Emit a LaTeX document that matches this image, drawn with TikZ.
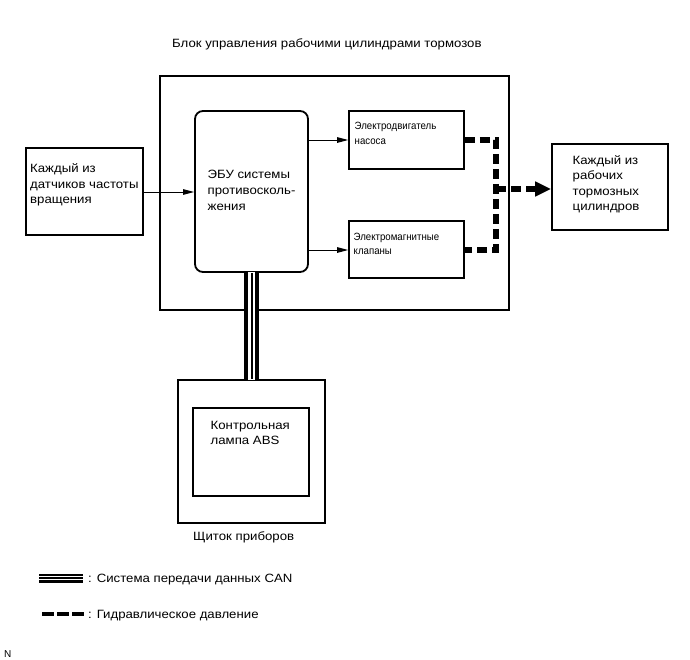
\documentclass[tikz,border=0pt]{standalone}
\usepackage{fontspec}
\setmainfont{Liberation Sans}
\newfontfamily\widefont[FakeStretch=1.1]{Liberation Sans}
\newfontfamily\narrowfont[FakeStretch=0.92]{Liberation Sans}
\usetikzlibrary{arrows.meta}
\tikzset{
  box/.style={draw, line width=1.6pt, inner sep=0pt},
  txt/.style={anchor=north west, align=left, inner sep=0pt, font=\widefont\fontsize{12}{15.6}\selectfont},
  smalltxt/.style={anchor=north west, align=left, inner sep=0pt, font=\narrowfont\fontsize{10.5}{15.5}\selectfont},
  ltxt/.style={anchor=base west, inner sep=0pt, font=\widefont\fontsize{12}{14}\selectfont},
  sig/.style={line width=1pt, -{Triangle[length=11pt,width=5.5pt]}},
  hyd/.style={line width=6pt, dash pattern=on 10pt off 5pt},
}
\begin{document}
\begin{tikzpicture}[x=1pt,y=-1pt]
\useasboundingbox (0,0) rectangle (690,659);
% title
\node[ltxt] (title) at (172,47) {Блок управления рабочими цилиндрами тормозов};
% outer box
\node[box, line width=2pt, minimum width=349pt, minimum height=234pt] (outer) at (334.5,193) {};
% left sensor box
\node[box, minimum width=117pt, minimum height=87pt] (sens) at (84.5,191.5) {};
\node[txt] (senst) at (30,163.3) {Каждый из\\датчиков частоты\\вращения};
% ECU
\node[box, line width=1.8pt, rounded corners=8pt, minimum width=113pt, minimum height=161pt] (ecu) at (251.5,191.5) {};
\node[txt, font=\widefont\fontsize{12}{16}\selectfont] (ecut) at (207.5,170) {ЭБУ системы\\противосколь-\\жения};
% motor
\node[box, minimum width=115pt, minimum height=58pt] (motor) at (406.5,140) {};
\node[smalltxt] (motort) at (354.5,121.7) {Электродвигатель\\насоса};
% valves
\node[box, minimum width=115pt, minimum height=57pt] (valves) at (406.5,249.5) {};
\node[smalltxt, font=\narrowfont\fontsize{10.5}{14.5}\selectfont] (valvest) at (353.5,232.7) {Электромагнитные\\клапаны};
% right box
\node[box, minimum width=116pt, minimum height=86pt] (wheel) at (610,187) {};
\node[txt] (wheelt) at (572.5,155) {Каждый из\\рабочих\\тормозных\\цилиндров};
% cluster
\node[box, minimum width=147pt, minimum height=143pt] (cluster) at (251.5,451.5) {};
\node[box, minimum width=116pt, minimum height=88pt] (lamp) at (251,452) {};
\node[txt] (lampt) at (210.5,420.7) {Контрольная\\лампа ABS};
\node[ltxt] (clustert) at (193,540.5) {Щиток приборов};
% signal arrows
\draw[sig] (sens.east |- 0,192) -- (ecu.west |- 0,192);
\draw[sig] (ecu.east |- 0,140) -- (motor.west |- 0,140);
\draw[sig] (ecu.east |- 0,250) -- (valves.west |- 0,250);
% hydraulic
\coordinate (hj) at (496,189);
\draw[hyd] (motor.east |- 0,140) -- (496,140) -- (496,250) -- (valves.east |- 0,250);
\draw[hyd, -{Triangle[length=16pt,width=14pt]}] (hj) -- (wheel.west |- hj);
% CAN
\draw[line width=15pt] (ecu.south) -- (cluster.north);
\draw[line width=6.6pt, white] ([yshift=1pt]ecu.south) -- ([yshift=-1pt]cluster.north);
\draw[line width=2pt] (ecu.south) -- (cluster.north);
% legend
\coordinate (l1a) at (39,578); \coordinate (l1b) at (83,578);
\draw[line width=9pt] (l1a) -- (l1b);
\draw[line width=3.6pt, white] (l1a) -- (l1b);
\draw[line width=1.4pt] (l1a) -- (l1b);
\node[ltxt] (leg1) at (88,582.5) {: Система передачи данных CAN};
\coordinate (l2a) at (42,614); \coordinate (l2b) at (84,614);
\draw[line width=4.8pt, dash pattern=on 12pt off 3pt] (l2a) -- (l2b);
\node[ltxt] (leg2) at (88,618.5) {: Гидравлическое давление};
\node[anchor=west, inner sep=0pt, font=\fontsize{10}{12}\selectfont] (nmark) at (4,654) {N};
\end{tikzpicture}
\end{document}
